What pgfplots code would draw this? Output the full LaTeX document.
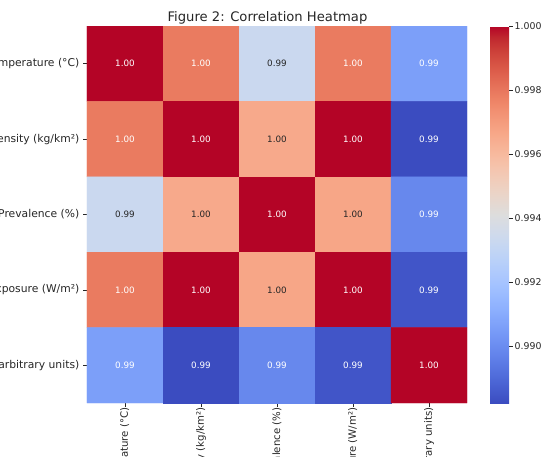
\documentclass[border=0pt]{standalone}
\usepackage{fontspec}
\setmainfont{DejaVu Sans}
\usepackage{pgfplots}
\pgfplotsset{compat=1.18}
\usepackage{pgfplotstable}

\pgfplotstableread{
x y c
0 0 1.00000
1 0 0.99788
2 0 0.99329
3 0 0.99788
4 0 0.99058

0 1 0.99788
1 1 1.00000
2 1 0.99658
3 1 1.00000
4 1 0.98822

0 2 0.99329
1 2 0.99658
2 2 1.00000
3 2 0.99670
4 2 0.98987

0 3 0.99788
1 3 1.00000
2 3 0.99670
3 3 1.00000
4 3 0.98846

0 4 0.99058
1 4 0.98822
2 4 0.98987
3 4 0.98846
4 4 1.00000
}\corrdata

\pgfplotstableread{
x y t
0 0 1.00
1 0 1.00
3 0 1.00
4 0 0.99
0 1 1.00
1 1 1.00
3 1 1.00
4 1 0.99
2 2 1.00
4 2 0.99
0 3 1.00
1 3 1.00
3 3 1.00
4 3 0.99
0 4 0.99
1 4 0.99
2 4 0.99
3 4 0.99
4 4 1.00
}\lightlabels

\pgfplotstableread{
x y t
2 0 0.99
2 1 1.00
0 2 0.99
1 2 1.00
3 2 1.00
2 3 1.00
}\darklabels

\definecolor{txt}{RGB}{38,38,38}

\begin{document}
\begin{tikzpicture}
\path (0,0) rectangle (541bp,-457bp);
\begin{scope}
\clip (0,0) rectangle (541bp,-457bp);
\begin{pgfinterruptboundingbox}
\begin{axis}[
  at={(277bp,-214.5bp)}, anchor=center,
  scale only axis, width=380bp, height=377bp,
  xmin=-0.5, xmax=4.5, ymin=-0.5, ymax=4.5,
  enlargelimits=false,
  y dir=reverse,
  axis line style={draw=none},
  xtick={0,1,2,3,4}, ytick={0,1,2,3,4},
  xticklabels={Average Temperature (°C), Population Density (kg/km²), Disease Prevalence (\%), Solar Exposure (W/m²), Pollution Index (arbitrary units)},
  yticklabels={Average Temperature (°C), Population Density (kg/km²), Disease Prevalence (\%), Solar Exposure (W/m²), Pollution Index (arbitrary units)},
  xtick pos=left, ytick pos=left,
  tick align=outside, major tick length=3.5bp,
  tick style={txt, line width=0.6bp},
  ticklabel style={text=txt},
  yticklabel style={font=\fontsize{10.8}{13}\selectfont, inner sep=4bp},
  xticklabel style={font=\fontsize{10.2}{12}\selectfont, rotate=90, anchor=east, inner sep=1bp},
  colormap={coolwarm}{
    rgb255=(59,76,192) rgb255=(68,90,204) rgb255=(77,104,215) rgb255=(87,117,225)
    rgb255=(98,130,234) rgb255=(108,142,241) rgb255=(119,154,247) rgb255=(130,165,251)
    rgb255=(141,176,254) rgb255=(152,185,255) rgb255=(163,194,255) rgb255=(174,201,253)
    rgb255=(184,208,249) rgb255=(194,213,244) rgb255=(204,217,238) rgb255=(213,219,230)
    rgb255=(221,221,221) rgb255=(229,216,209) rgb255=(236,211,197) rgb255=(241,204,185)
    rgb255=(245,196,173) rgb255=(247,187,160) rgb255=(247,177,148) rgb255=(247,166,135)
    rgb255=(244,154,123) rgb255=(241,141,111) rgb255=(236,127,99) rgb255=(229,112,88)
    rgb255=(222,96,77) rgb255=(213,80,66) rgb255=(203,62,56) rgb255=(192,40,47)
    rgb255=(180,4,38)},
  point meta min=0.98822, point meta max=1.0,
  colorbar,
  colorbar/width=19bp,
  colorbar style={
    at={(parent axis.east)}, anchor=west, xshift=14.5bp,
    axis line style={draw=none},
    ytick={0.990,0.992,0.994,0.996,0.998,1.000},
    tick align=outside, major tick length=3.5bp,
    ytick pos=right,
    tick style={txt, line width=0.6bp},
    yticklabel style={font=\fontsize{9.4}{11}\selectfont, text=txt, inner sep=2bp,
      /pgf/number format/.cd, fixed, fixed zerofill, precision=3, assume math mode=true},
    scaled y ticks=false,
  },
]
\addplot[matrix plot*, mesh/cols=5, point meta=explicit] table[x=x, y=y, meta=c] {\corrdata};
\addplot[only marks, mark=none, point meta=explicit symbolic,
  nodes near coords, nodes near coords align={center},
  nodes near coords style={font=\fontsize{8.8}{10}\selectfont, text=white, anchor=center}]
  table[x=x, y=y, meta=t] {\lightlabels};
\addplot[only marks, mark=none, point meta=explicit symbolic,
  nodes near coords, nodes near coords align={center},
  nodes near coords style={font=\fontsize{8.8}{10}\selectfont, text=txt, anchor=center}]
  table[x=x, y=y, meta=t] {\darklabels};
\end{axis}
\node[font=\fontsize{13.2}{15}\selectfont, text=txt, anchor=base] at (267.5bp,-21bp) {Figure 2: Correlation Heatmap};
\end{pgfinterruptboundingbox}
\end{scope}
\end{tikzpicture}
\end{document}
